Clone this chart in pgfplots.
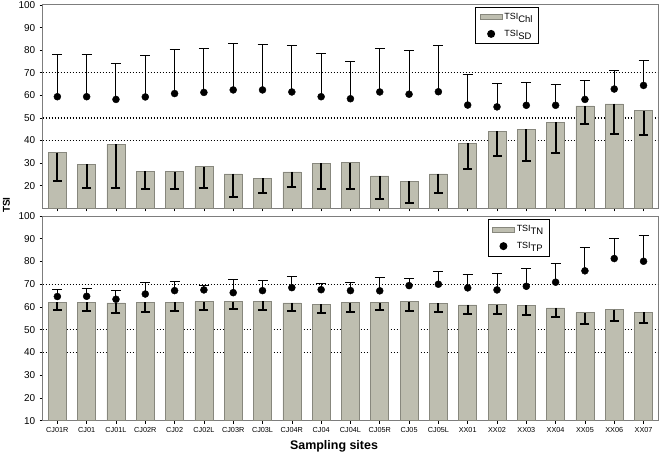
\documentclass[border=0pt]{standalone}
\usepackage{fontspec}
\setmainfont{Liberation Sans}
\usepackage{pgfplots}
\pgfplotsset{compat=1.18}
\usepackage{pgfplotstable}

\definecolor{barfill}{RGB}{190,190,176}
\definecolor{baredge}{RGB}{135,135,125}
\definecolor{spine}{RGB}{125,125,125}

\newcommand{\sub}[1]{\raisebox{-2.8bp}{\fontsize{9.5}{10}\selectfont #1}}

% idx bar bar_err_minus dot dot_err_plus
\pgfplotstableread{
x bar em dot ep
0 34.6 12.4 59.4 18.6
1 29.5 10.3 59.4 18.9
2 38.3 19.1 58.2 16.1
3 26.4 8.0 59.3 18.4
4 26.2 7.5 60.8 19.3
5 28.4 9.2 61.3 19.5
6 25.2 10.2 62.4 20.5
7 23.3 6.7 62.4 19.9
8 26.1 6.8 61.5 20.5
9 29.9 11.2 59.4 19.1
10 30.2 11.5 58.5 16.6
11 24.3 10.2 61.5 19.3
12 21.9 9.5 60.5 19.3
13 25.2 8.6 61.6 20.3
14 38.8 11.5 55.7 13.6
15 44.2 11.2 54.9 10.3
16 45.0 13.9 55.6 10.0
17 48.2 13.7 55.6 9.4
18 55.3 8.1 58.2 8.3
19 56.2 13.3 62.8 8.0
20 53.2 10.9 64.4 11.0
}\topdata

\pgfplotstableread{
x bar em dot ep
0 62.1 3.6 64.6 2.9
1 62.1 4.0 64.7 3.5
2 61.8 4.4 63.4 4.0
3 62.1 4.2 65.7 4.9
4 62.1 3.9 67.2 3.8
5 62.4 3.9 67.5 1.8
6 62.4 3.3 66.3 5.6
7 62.6 3.9 67.2 4.6
8 61.8 3.6 68.5 5.0
9 61.3 3.8 67.6 2.7
10 61.9 4.1 67.2 3.4
11 61.9 3.1 67.1 5.7
12 62.4 4.0 69.4 3.1
13 61.6 3.8 70.0 5.4
14 60.9 4.0 68.4 6.0
15 61.0 4.1 67.5 7.2
16 60.7 4.1 69.1 8.0
17 59.6 4.2 70.9 8.2
18 57.5 4.9 75.9 10.4
19 58.8 4.8 81.3 8.8
20 57.6 4.7 80.1 11.2
}\botdata

\pgfplotsset{
  panel/.style={
    scale only axis,
    width=615.5bp,
    xmin=-0.5, xmax=20.5,
    ymin=10, ymax=100,
    axis line style={spine, line width=1bp},
    tick pos=left,
    tick align=outside,
    major tick length=3bp,
    tick style={black, line width=0.6bp},
    xtick={0,...,20},
    /pgf/number format/assume math mode=true,
    yticklabel style={font=\fontsize{10}{12}\selectfont, xshift=-1bp},
    xticklabel style={font=\fontsize{7.3}{8}\selectfont},
    legend style={draw=black, line width=0.9bp, font=\fontsize{9}{10}\selectfont,
      inner xsep=4bp, inner ysep=4bp, row sep=5bp, cells={anchor=west},
      /tikz/every even column/.append style={column sep=1bp}},
  },
  refline/.style={black, line width=1.3bp, dash pattern=on 1.4bp off 1.6bp, forget plot},
  bars/.style={ybar, bar width=18bp, fill=barfill, draw=baredge, line width=0.6bp,
    legend image code/.code={\draw[fill=barfill, draw=baredge, line width=0.6bp] (0bp,-2.5bp) rectangle (22bp,2.5bp);},
    error bars/.cd, y dir=minus, y explicit,
    error bar style={black, line width=2bp},
    error mark options={rotate=90, black, mark size=4.5bp, line width=2bp}},
  dots/.style={only marks, mark=*, mark size=3.5bp, black,
    legend image code/.code={\fill[black] (11bp,0bp) circle (3.5bp);\path[draw=none] (0bp,0bp) -- (22bp,0bp);},
    error bars/.cd, y dir=plus, y explicit,
    error bar style={black, line width=1bp},
    error mark options={rotate=90, black, mark size=5bp, line width=1bp}},
}

\begin{document}
\begin{tikzpicture}
% top panel
\begin{axis}[panel, at={(42.7bp,245.7bp)}, anchor=south west, height=203.3bp,
  ytick={20,30,...,100}, xticklabels={},
  legend style={at={(0.703,0.991)}, anchor=north west}]
\addplot[refline] coordinates {(-0.5,70) (20.5,70)};
\addplot[refline] coordinates {(-0.5,50) (20.5,50)};
\addplot[refline] coordinates {(-0.5,40) (20.5,40)};
\addplot[bars] table[x=x, y=bar, y error minus=em] {\topdata};
\addlegendentry{TSI\sub{Chl}}
\addplot[dots] table[x=x, y=dot, y error plus=ep] {\topdata};
\addlegendentry{TSI\sub{SD}}
\end{axis}
% bottom panel
\begin{axis}[panel, at={(42.7bp,33.3bp)}, anchor=south west, height=204.7bp,
  ytick={10,20,...,100},
  xticklabels={CJ01R,CJ01,CJ01L,CJ02R,CJ02,CJ02L,CJ03R,CJ03L,CJ04R,CJ04,CJ04L,CJ05R,CJ05,CJ05L,XX01,XX02,XX03,XX04,XX05,XX06,XX07},
  legend style={at={(0.723,0.985)}, anchor=north west}]
\addplot[refline] coordinates {(-0.5,70) (20.5,70)};
\addplot[refline] coordinates {(-0.5,50) (20.5,50)};
\addplot[refline] coordinates {(-0.5,40) (20.5,40)};
\addplot[bars] table[x=x, y=bar, y error minus=em] {\botdata};
\addlegendentry{TSI\sub{TN}}
\addplot[dots] table[x=x, y=dot, y error plus=ep] {\botdata};
\addlegendentry{TSI\sub{TP}}
\end{axis}
\node[rotate=90, font=\bfseries\fontsize{10}{12}\selectfont] at (6.5bp,249bp) {TSI};
\node[font=\bfseries\fontsize{12.5}{14}\selectfont] at (334bp,8bp) {Sampling sites};
\pgfresetboundingbox
\path (0bp,0bp) rectangle (661bp,454bp);
\end{tikzpicture}
\end{document}
